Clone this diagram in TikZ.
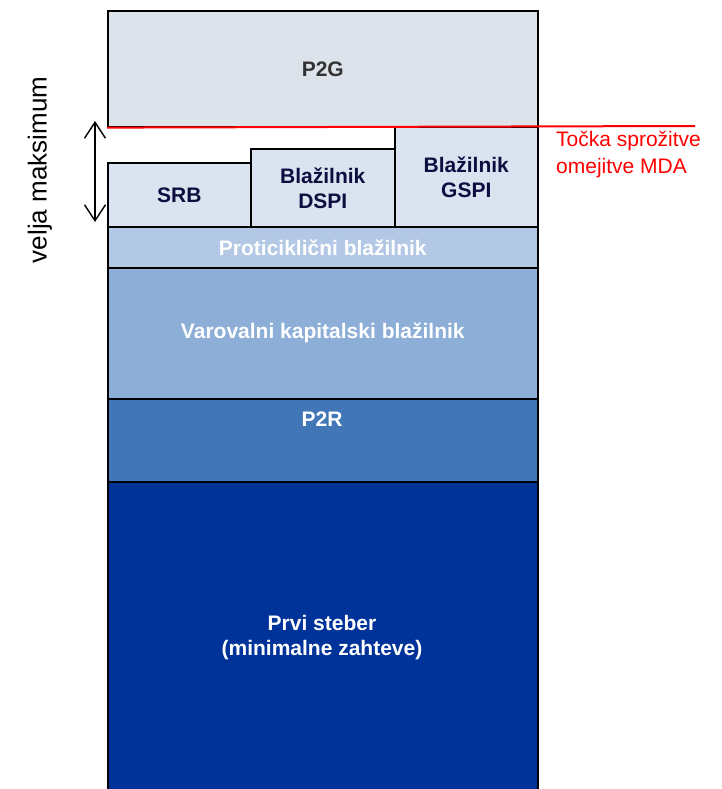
\documentclass[tikz,border=0pt]{standalone}
\usepackage{fontspec}
\setmainfont{Liberation Sans}
\usetikzlibrary{arrows.meta}
\definecolor{cP2G}{HTML}{DDE3EA}
\definecolor{cSmall}{HTML}{DAE4F1}
\definecolor{cPro}{HTML}{B2C8E4}
\definecolor{cVar}{HTML}{8DAED6}
\definecolor{cP2R}{HTML}{4177B7}
\definecolor{cPrvi}{HTML}{003399}
\definecolor{cNavy}{HTML}{0D0D3F}
\definecolor{cGrayTxt}{HTML}{333333}
\tikzset{
  blk/.style={draw=black, line width=1.6pt, anchor=north west, inner sep=0pt, align=center,
    font=\fontsize{21}{25}\selectfont\bfseries},
  lbl/.style={inner sep=0pt, align=center, anchor=center,
    font=\fontsize{21}{25}\selectfont\bfseries},
  redtxt/.style={text=red, anchor=north west, inner sep=0pt, align=left,
    font=\fontsize{21}{27}\selectfont},
}
\begin{document}
\begin{tikzpicture}[x=1pt, y=-1pt]
\useasboundingbox (0,0) rectangle (721,789);
% layers
\node[blk, fill=cPrvi, minimum width=430pt, minimum height=320pt] (prvi) at (107,481) {};
\node[lbl, text=white] (prvitxt) at (322,638) {Prvi steber\\(minimalne zahteve)};
\node[blk, fill=cP2R, minimum width=430pt, minimum height=83pt] (p2r) at (107,398) {};
\node[lbl, text=white] (p2rtxt) at (322,419) {P2R};
\node[blk, fill=cVar, text=white, minimum width=430pt, minimum height=131pt] (var) at (107,267) {Varovalni kapitalski blažilnik};
\node[blk, fill=cPro, text=white, minimum width=430pt, minimum height=41pt] (pro) at (107,226) {Proticiklični blažilnik};
\node[blk, fill=cSmall, text=cNavy, minimum width=143pt, minimum height=64pt] (srb) at (107,162) {SRB};
\node[blk, fill=cSmall, text=cNavy, minimum width=144pt, minimum height=78pt] (dspi) at (250,148) {Blažilnik\\DSPI};
\node[blk, fill=cSmall, text=cNavy, minimum width=143pt, minimum height=100pt] (gspi) at (394,126) {Blažilnik\\GSPI};
\node[blk, fill=cP2G, text=cGrayTxt, minimum width=430pt, minimum height=116pt] (p2g) at (107,10) {P2G};
% trigger line
\coordinate (redend) at (695,126);
\draw[red, line width=2pt] (p2g.south west) -- (redend);
\node[redtxt] (trig) at (556,131) {Točka sprožitve\\omejitve MDA};
% arrow
\coordinate (atop) at (95,121);
\coordinate (abot) at (95,222);
\draw[line width=1.4pt, {Straight Barb[length=16pt,width=21pt]}-{Straight Barb[length=16pt,width=21pt]}] (atop) -- (abot);
% side label
\node[rotate=90, inner sep=0pt, font=\fontsize{26}{28}\selectfont] (velja) at (40,170) {velja maksimum};
\end{tikzpicture}
\end{document}
